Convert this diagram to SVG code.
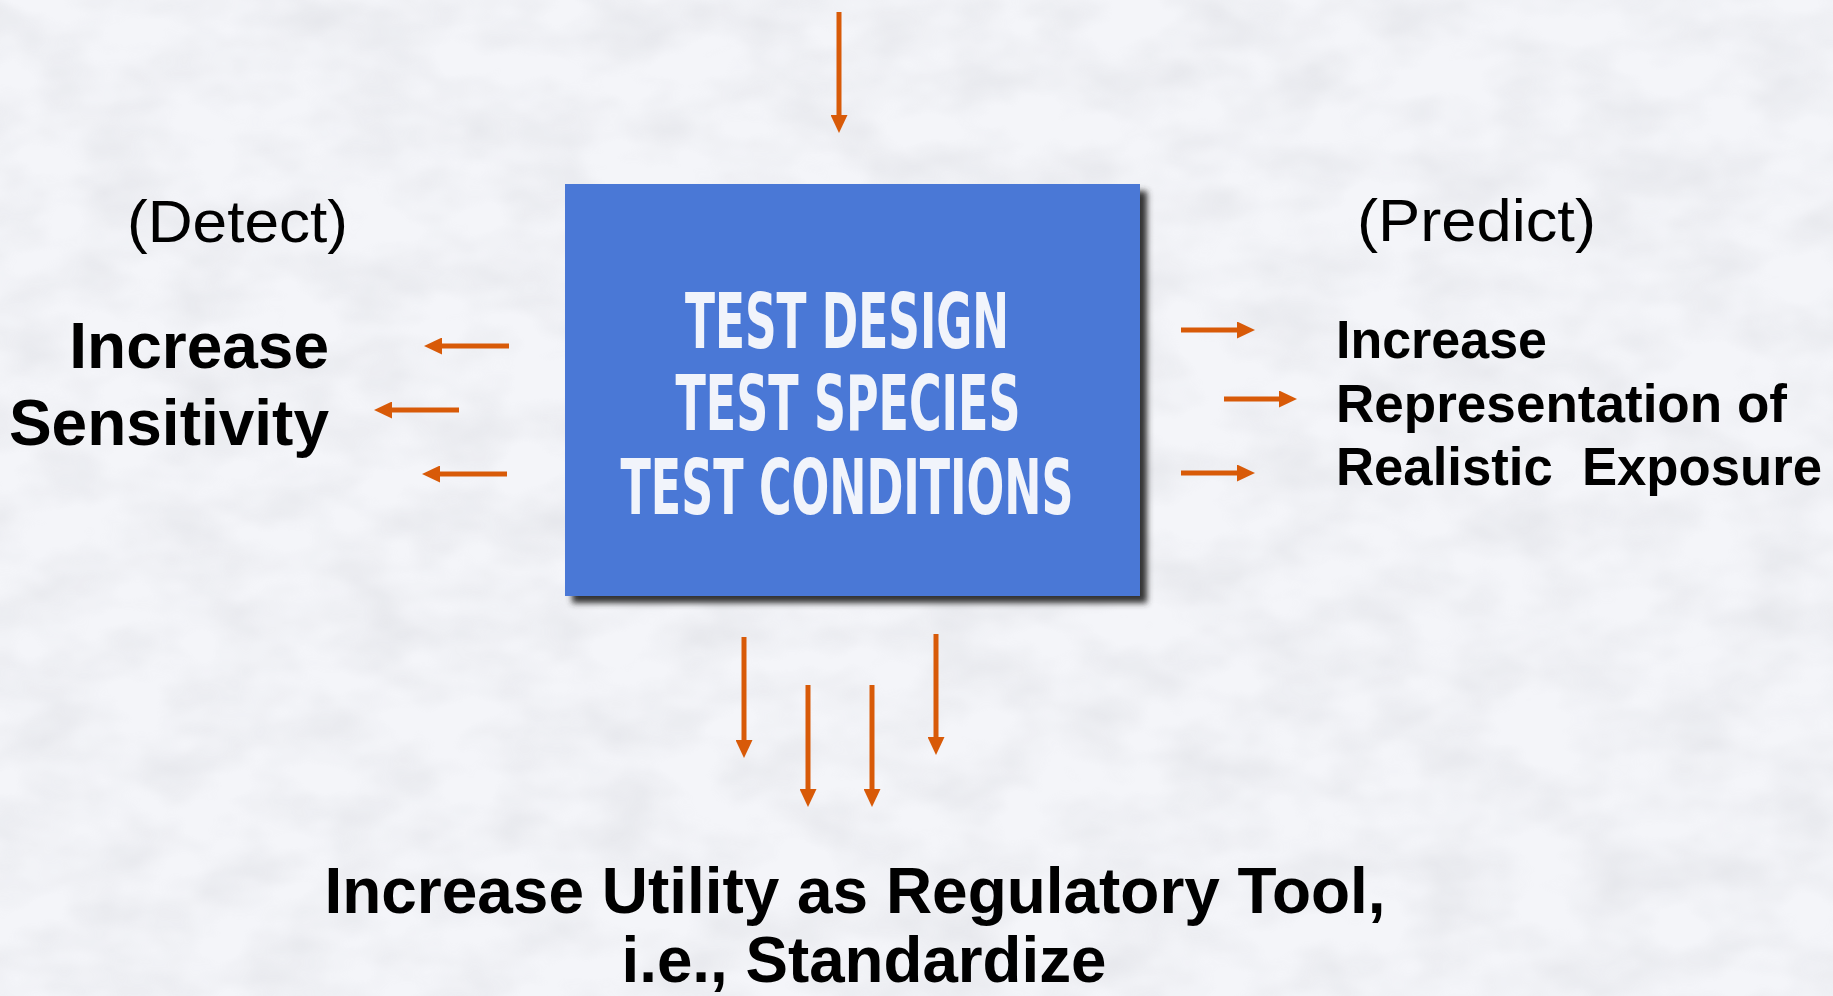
<svg xmlns="http://www.w3.org/2000/svg" width="1833" height="996" viewBox="0 0 1833 996">
<defs>
<style>
.lbl{font-family:"Liberation Sans",Arial,sans-serif;fill:#000}
.reg{font-weight:normal;font-size:60px}
.bold{font-weight:bold}
.boxt{font-family:"DejaVu Sans Condensed","Liberation Sans Narrow","Liberation Sans",sans-serif;font-weight:bold;font-size:77px;fill:#f1f4fb;text-anchor:middle}
.arr{stroke:#d85a08;stroke-width:5;fill:none;marker-end:url(#ah)}
</style>
<marker id="ah" viewBox="0 0 18 17" refX="0" refY="8.5" markerWidth="18" markerHeight="17" markerUnits="userSpaceOnUse" orient="auto">
<path d="M0,0 L18,8.5 L0,17 z" fill="#d85a08"/>
</marker>
<filter id="sh" x="-5%" y="-5%" width="115%" height="115%">
<feGaussianBlur stdDeviation="3"/>
</filter>
<filter id="tex" x="0" y="0" width="100%" height="100%">
<feTurbulence type="fractalNoise" baseFrequency="0.012 0.02" numOctaves="3" seed="7" result="n"/>
<feColorMatrix type="matrix" values="0 0 0 0 0.55  0 0 0 0 0.56  0 0 0 0 0.6  0 0 0 -1.6 1.05" in="n"/>
</filter>
</defs>
<g id="background">
<rect x="0" y="0" width="1833" height="996" fill="#f4f5f9"/>
<rect x="0" y="0" width="1833" height="996" filter="url(#tex)" opacity="0.3"/>
</g>
<g id="box">
<rect x="572" y="191" width="575" height="412" fill="#333" filter="url(#sh)"/>
<rect x="565" y="184" width="575" height="412" fill="#4a78d6"/>
<text class="boxt" x="847" y="348" textLength="324" lengthAdjust="spacingAndGlyphs">TEST DESIGN</text>
<text class="boxt" x="848" y="430" textLength="345" lengthAdjust="spacingAndGlyphs">TEST SPECIES</text>
<text class="boxt" x="847" y="514" textLength="453" lengthAdjust="spacingAndGlyphs">TEST CONDITIONS</text>
</g>
<g id="detect">
<text class="lbl reg" x="127" y="242" textLength="221" lengthAdjust="spacingAndGlyphs">(Detect)</text>
<text class="lbl bold" x="329" y="368" font-size="64" text-anchor="end">Increase</text>
<text class="lbl bold" x="329" y="445" font-size="64" text-anchor="end">Sensitivity</text>
</g>
<g id="predict">
<text class="lbl reg" x="1357" y="241" textLength="239" lengthAdjust="spacingAndGlyphs">(Predict)</text>
<text class="lbl bold" x="1336" y="358" font-size="53" textLength="211" lengthAdjust="spacingAndGlyphs">Increase</text>
<text class="lbl bold" x="1336" y="422" font-size="53" textLength="451" lengthAdjust="spacingAndGlyphs">Representation of</text>
<text class="lbl bold" x="1336" y="485" font-size="53" textLength="486" lengthAdjust="spacingAndGlyphs" xml:space="preserve">Realistic  Exposure</text>
</g>
<g id="standardize">
<text class="lbl bold" x="855" y="913" font-size="64" text-anchor="middle" textLength="1061" lengthAdjust="spacingAndGlyphs">Increase Utility as Regulatory Tool,</text>
<text class="lbl bold" x="864" y="982" font-size="64" text-anchor="middle" textLength="485" lengthAdjust="spacingAndGlyphs">i.e., Standardize</text>
</g>
<g id="connectors">
<line class="arr" x1="839" y1="12" x2="839" y2="115"/>
<line class="arr" x1="509" y1="346" x2="442" y2="346"/>
<line class="arr" x1="459" y1="410" x2="392" y2="410"/>
<line class="arr" x1="507" y1="474" x2="440" y2="474"/>
<line class="arr" x1="1181" y1="330" x2="1237" y2="330"/>
<line class="arr" x1="1224" y1="399" x2="1279" y2="399"/>
<line class="arr" x1="1181" y1="473" x2="1237" y2="473"/>
<line class="arr" x1="744" y1="637" x2="744" y2="740"/>
<line class="arr" x1="808" y1="685" x2="808" y2="789"/>
<line class="arr" x1="872" y1="685" x2="872" y2="789"/>
<line class="arr" x1="936" y1="634" x2="936" y2="737"/>
</g>
</svg>
